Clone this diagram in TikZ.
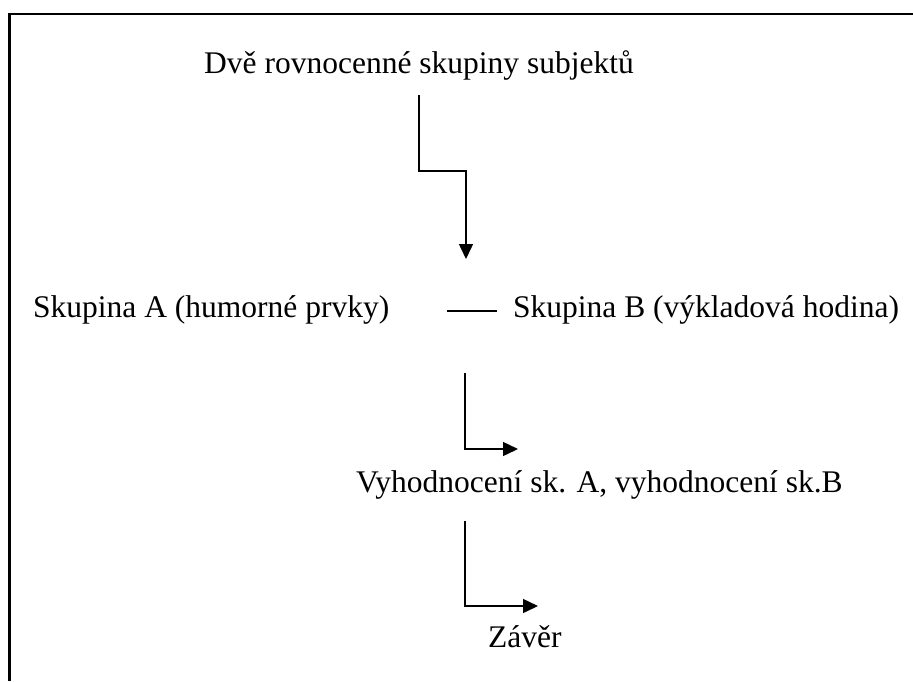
\documentclass[tikz,border=0pt]{standalone}
\usepackage{fontspec}
\setmainfont{Liberation Serif}
\usetikzlibrary{arrows.meta}
\begin{document}
\begin{tikzpicture}[x=1pt,y=1pt,
  lbl/.style={anchor=base west,inner sep=0pt,font=\fontsize{31.5}{38}\selectfont},
  conn/.style={line width=1.5pt},
  arr/.style={conn,-{Triangle[length=15pt,width=14pt]}},
  frame/.style={line width=2.7pt}]
\useasboundingbox (0,0) rectangle (913,-681);
\draw[frame] (9.3,-681) -- (9.3,-14) -- (913,-14);
% texts
\node[lbl] (title) at (204,-73) {Dvě rovnocenné skupiny subjektů};
\node[lbl] (skA) at (33,-317) {Skupina A (humorné prvky)};
\node[lbl] (skB) at (513,-317) {Skupina B (výkladová hodina)};
\node[lbl] (vyh) at (356,-492) {Vyhodnocení sk. A, vyhodnocení sk.B};
\node[lbl] (zav) at (488,-647) {Závěr};
% connector points
\coordinate (a1s) at (419,-95);
\coordinate (a1b) at (419,-171);
\coordinate (a1c) at (466,-171);
\coordinate (a1e) at (466,-259);
\coordinate (dA) at (447,-311);
\coordinate (dB) at (497,-311);
\coordinate (a2s) at (465,-373);
\coordinate (a2b) at (465,-449);
\coordinate (a2e) at (518,-449);
\coordinate (a3s) at (465,-521);
\coordinate (a3b) at (465,-606);
\coordinate (a3e) at (538,-606);
% connectors
\draw[arr] (a1s) -- (a1b) -- (a1c) -- (a1e);
\draw[conn] (dA) -- (dB);
\draw[arr] (a2s) -- (a2b) -- (a2e);
\draw[arr] (a3s) -- (a3b) -- (a3e);
\end{tikzpicture}
\end{document}
